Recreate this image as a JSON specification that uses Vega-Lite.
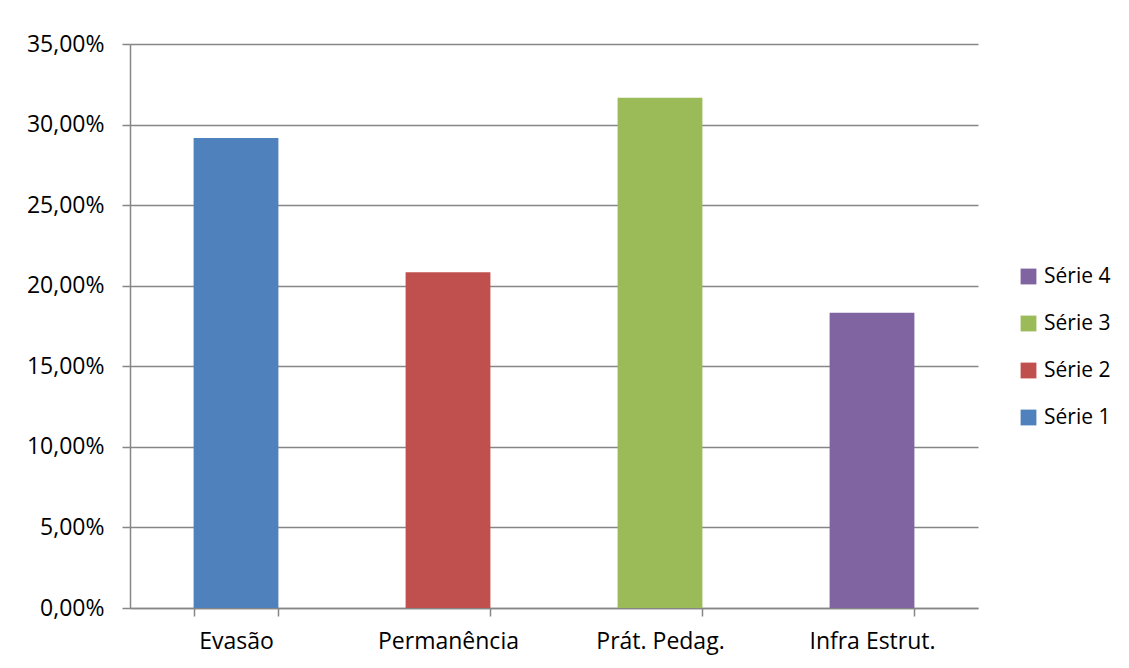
{
  "$schema": "https://vega.github.io/schema/vega-lite/v6.json",
  "autosize": {"type": "none"},
  "padding": {"left": 130, "top": 44, "right": 151, "bottom": 60},
  "width": 848,
  "height": 564,
  "background": "white",
  "config": {
    "locale": {"number": {"decimal": ",", "thousands": ".", "grouping": [3], "currency": ["", " €"]}},
    "view": {"stroke": null},
    "font": "Open Sans",
    "axis": {"labelFont": "Open Sans", "labelColor": "#000000", "labelFontSize": 23, "domainColor": "#868686", "tickColor": "#868686", "gridColor": "#868686", "domainWidth": 1.5, "tickWidth": 1.5, "gridWidth": 1.3}
  },
  "data": {
    "values": [
      {"categoria": "Evasão", "valor": 0.2917, "serie": "Série 1"},
      {"categoria": "Permanência", "valor": 0.2083, "serie": "Série 2"},
      {"categoria": "Prát. Pedag.", "valor": 0.3167, "serie": "Série 3"},
      {"categoria": "Infra Estrut.", "valor": 0.1833, "serie": "Série 4"}
    ]
  },
  "mark": {"type": "bar"},
  "encoding": {
    "x": {
      "field": "categoria",
      "type": "nominal",
      "sort": null,
      "scale": {"paddingInner": 0.6, "paddingOuter": 0.3},
      "axis": {"title": null, "labelAngle": 0, "tickBand": "extent", "tickSize": 8, "labelPadding": 14, "grid": false}
    },
    "y": {
      "field": "valor",
      "type": "quantitative",
      "scale": {"domain": [0, 0.35], "nice": false},
      "axis": {"title": null, "format": ".2%", "values": [0, 0.05, 0.1, 0.15, 0.2, 0.25, 0.3, 0.35], "tickSize": 8, "labelPadding": 18, "grid": true}
    },
    "color": {
      "field": "serie",
      "type": "nominal",
      "scale": {"domain": ["Série 1", "Série 2", "Série 3", "Série 4"], "range": ["#4F81BD", "#C0504D", "#9BBB59", "#8064A2"]},
      "legend": {
        "title": null,
        "values": ["Série 4", "Série 3", "Série 2", "Série 1"],
        "orient": "none",
        "legendX": 888,
        "legendY": 222,
        "symbolType": "square",
        "symbolSize": 250,
        "symbolStrokeWidth": 0,
        "labelFont": "Open Sans",
        "labelFontSize": 21,
        "labelColor": "#000000",
        "labelOffset": 5,
        "rowPadding": 25
      }
    }
  }
}
